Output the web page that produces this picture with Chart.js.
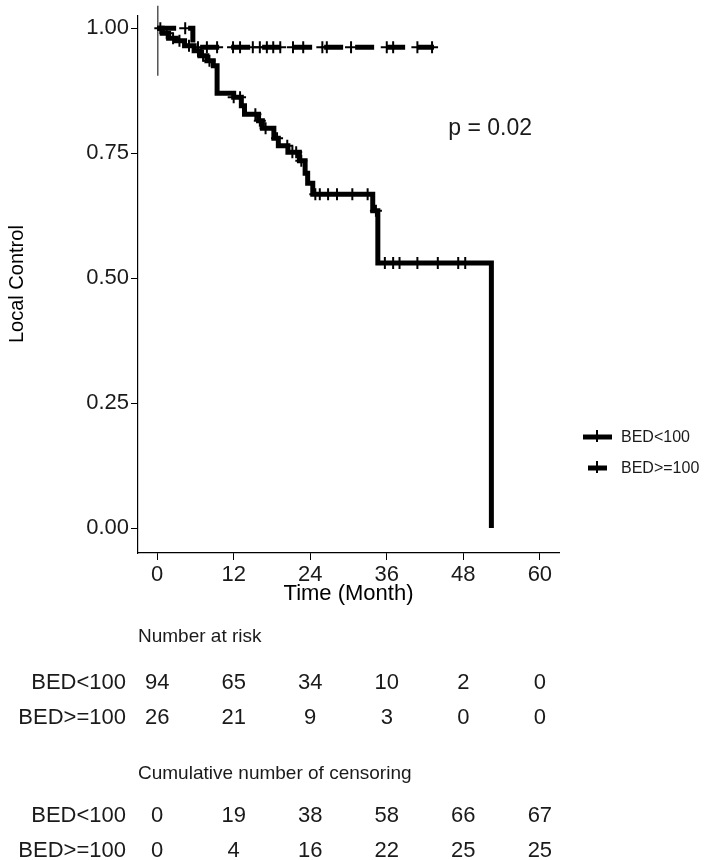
<!DOCTYPE html>
<html>
<head>
<meta charset="utf-8">
<script src="https://cdn.jsdelivr.net/npm/chart.js@4.4.1/dist/chart.umd.min.js"></script>
<style>
body{margin:0;background:#fff;}
#wrap{position:relative;width:709px;height:860px;}
</style>
</head>
<body>
<div id="wrap"><canvas id="grafico" width="709" height="860"></canvas></div>
<script>
// eixos
const xTicks = [0, 12, 24, 36, 48, 60];
const yTicks = [0, 0.25, 0.5, 0.75, 1];
const grupos = ["BED<100", "BED>=100"];

// curva BED<100
const tempoBaixo = [0, 0.8, 1.8, 3.0, 4.3, 5.8, 6.7, 7.8, 8.8, 9.4, 12.0, 13.2, 13.7, 15.9, 16.5, 18.3, 19.0, 20.5, 22.3, 23.2, 23.6, 24.4, 33.8, 34.6, 52.4];
const survBaixo = [1.00, 0.99, 0.98, 0.975, 0.965, 0.955, 0.945, 0.935, 0.925, 0.87, 0.862, 0.845, 0.828, 0.815, 0.80, 0.78, 0.765, 0.752, 0.735, 0.71, 0.69, 0.668, 0.635, 0.53, 0];
const censuraBaixo = [0.5, 1.5, 2.5, 3.5, 5.0, 6.4, 7.2, 8.2, 12.0, 13.0, 15.4, 16.1, 17.0, 18.8, 20.4, 21.2, 21.8, 22.6, 24.8, 25.5, 26.8, 28.2, 30.6, 33.0, 34.3, 35.7, 37.0, 38.0, 40.8, 44.0, 47.2, 48.3];

// curva BED>=100
const tempoAlto = [0, 5.6, 43.4];
const survAlto = [1.00, 0.962, 0.962];
const censuraAlto = [4.4, 6.4, 7.8, 9.4, 11.9, 13.0, 15.0, 16.1, 17.2, 18.2, 19.3, 21.3, 22.9, 25.9, 26.6, 30.4, 36.0, 37.0, 40.8, 43.1];

// linha fina no inicio
const linhaFinaX = [0.1, 0.1];
const linhaFinaY = [1.045, 0.905];

// tabelas
const riscoBaixo = [94, 65, 34, 10, 2, 0];
const riscoAlto = [26, 21, 9, 3, 0, 0];
const censBaixo = [0, 19, 38, 58, 66, 67];
const censAlto = [0, 4, 16, 22, 25, 25];

const textoP = "p = 0.02";
const posP = [52.2, 0.80];

const fonte = "'Liberation Sans', Arial, sans-serif";

function survEm(tempos, surv, t){
    let s = surv[0];
    for(let i = 0; i < tempos.length; i++){
        if(tempos[i] <= t) s = surv[i];
    }
    return s;
}

function pontos(xs, ys){
    return xs.map((v, i) => ({x: v, y: ys[i]}));
}

const desenhoExtra = {
    id: "desenhoExtra",
    afterDraw(chart){
        const ctx = chart.ctx;
        const sx = chart.scales.x;
        const sy = chart.scales.y;
        ctx.save();
        ctx.fillStyle = "#1a1a1a";

        // valor p
        ctx.font = "23px " + fonte;
        ctx.textAlign = "center";
        ctx.textBaseline = "middle";
        ctx.fillText(textoP, sx.getPixelForValue(posP[0]), sy.getPixelForValue(posP[1]));

        // legenda
        const legY = [437, 468];
        ctx.strokeStyle = "#000";
        for(let i = 0; i < 2; i++){
            ctx.lineWidth = 5;
            ctx.setLineDash([]);
            ctx.beginPath();
            if(i == 0){
                ctx.moveTo(583, legY[i]);
                ctx.lineTo(612, legY[i]);
            } else {
                ctx.moveTo(588, legY[i]);
                ctx.lineTo(607, legY[i]);
            }
            ctx.stroke();
            ctx.lineWidth = 2;
            ctx.beginPath();
            ctx.moveTo(597, legY[i] - 7);
            ctx.lineTo(597, legY[i] + 5);
            ctx.moveTo(590, legY[i]);
            ctx.lineTo(604, legY[i]);
            ctx.stroke();
            ctx.font = "16px " + fonte;
            ctx.textAlign = "left";
            ctx.fillText(grupos[i], 621, legY[i] + 1);
        }

        // tabelas
        function tabela(titulo, yTitulo, linhas, yLinhas){
            ctx.font = "19px " + fonte;
            ctx.textAlign = "left";
            ctx.fillText(titulo, 138, yTitulo);
            for(let r = 0; r < linhas.length; r++){
                ctx.font = "22px " + fonte;
                ctx.textAlign = "right";
                ctx.fillText(grupos[r], 126, yLinhas[r]);
                ctx.textAlign = "center";
                for(let i = 0; i < xTicks.length; i++){
                    ctx.fillText(String(linhas[r][i]), sx.getPixelForValue(xTicks[i]), yLinhas[r]);
                }
            }
        }
        tabela("Number at risk", 637, [riscoBaixo, riscoAlto], [683, 718]);
        tabela("Cumulative number of censoring", 774, [censBaixo, censAlto], [816, 851]);

        ctx.restore();
    }
};

const ctx = document.getElementById("grafico");

new Chart(ctx, {
    type: "line",
    data: {
        datasets: [
            {
                label: grupos[0],
                data: pontos(tempoBaixo, survBaixo),
                borderColor: "#000",
                borderWidth: 5,
                stepped: true,
                pointRadius: 0,
                fill: false
            },
            {
                label: grupos[1],
                data: pontos(tempoAlto, survAlto),
                borderColor: "#000",
                borderWidth: 5,
                borderDash: [19, 12],
                stepped: true,
                pointRadius: 0,
                fill: false
            },
            {
                label: "censura1",
                data: censuraBaixo.map(t => ({x: t, y: survEm(tempoBaixo, survBaixo, t)})),
                showLine: false,
                pointStyle: "cross",
                pointRadius: 6,
                pointBorderWidth: 2,
                borderColor: "#000"
            },
            {
                label: "censura2",
                data: censuraAlto.map(t => ({x: t, y: survEm(tempoAlto, survAlto, t)})),
                showLine: false,
                pointStyle: "cross",
                pointRadius: 6,
                pointBorderWidth: 2,
                borderColor: "#000"
            },
            {
                label: "fina",
                data: pontos(linhaFinaX, linhaFinaY),
                borderColor: "#555",
                borderWidth: 1.5,
                pointRadius: 0,
                clip: false
            }
        ]
    },
    options: {
        responsive: false,
        animation: false,
        devicePixelRatio: 1,
        layout: {padding: {left: 0, right: 150, top: 2, bottom: 250}},
        plugins: {legend: {display: false}, tooltip: {enabled: false}},
        scales: {
            x: {
                type: "linear",
                min: -3,
                max: 63,
                afterBuildTicks: s => { s.ticks = xTicks.map(v => ({value: v})); },
                afterFit: s => { s.height = 57; s.paddingLeft = 0; s.paddingRight = 0; },
                grid: {drawOnChartArea: false, drawTicks: true, tickLength: 7, color: "#000"},
                border: {display: true, color: "#000", width: 1.2},
                ticks: {color: "#1a1a1a", font: {family: fonte, size: 22}, padding: 2, maxRotation: 0},
                title: {display: true, text: "Time (Month)", color: "#000", font: {family: fonte, size: 22}, padding: {top: 0, bottom: 3}}
            },
            y: {
                type: "linear",
                min: -0.05,
                max: 1.026,
                afterBuildTicks: s => { s.ticks = yTicks.map(v => ({value: v})); },
                afterFit: s => { s.width = 138; },
                grid: {drawOnChartArea: false, drawTicks: true, tickLength: 7, color: "#000"},
                border: {display: true, color: "#000", width: 1.2},
                ticks: {color: "#1a1a1a", font: {family: fonte, size: 22}, padding: 2, callback: v => v.toFixed(2)},
                title: {display: true, text: "Local Control", color: "#000", font: {family: fonte, size: 20}, padding: {top: 5, bottom: 0}}
            }
        }
    },
    plugins: [desenhoExtra]
});
</script>
</body>
</html>
